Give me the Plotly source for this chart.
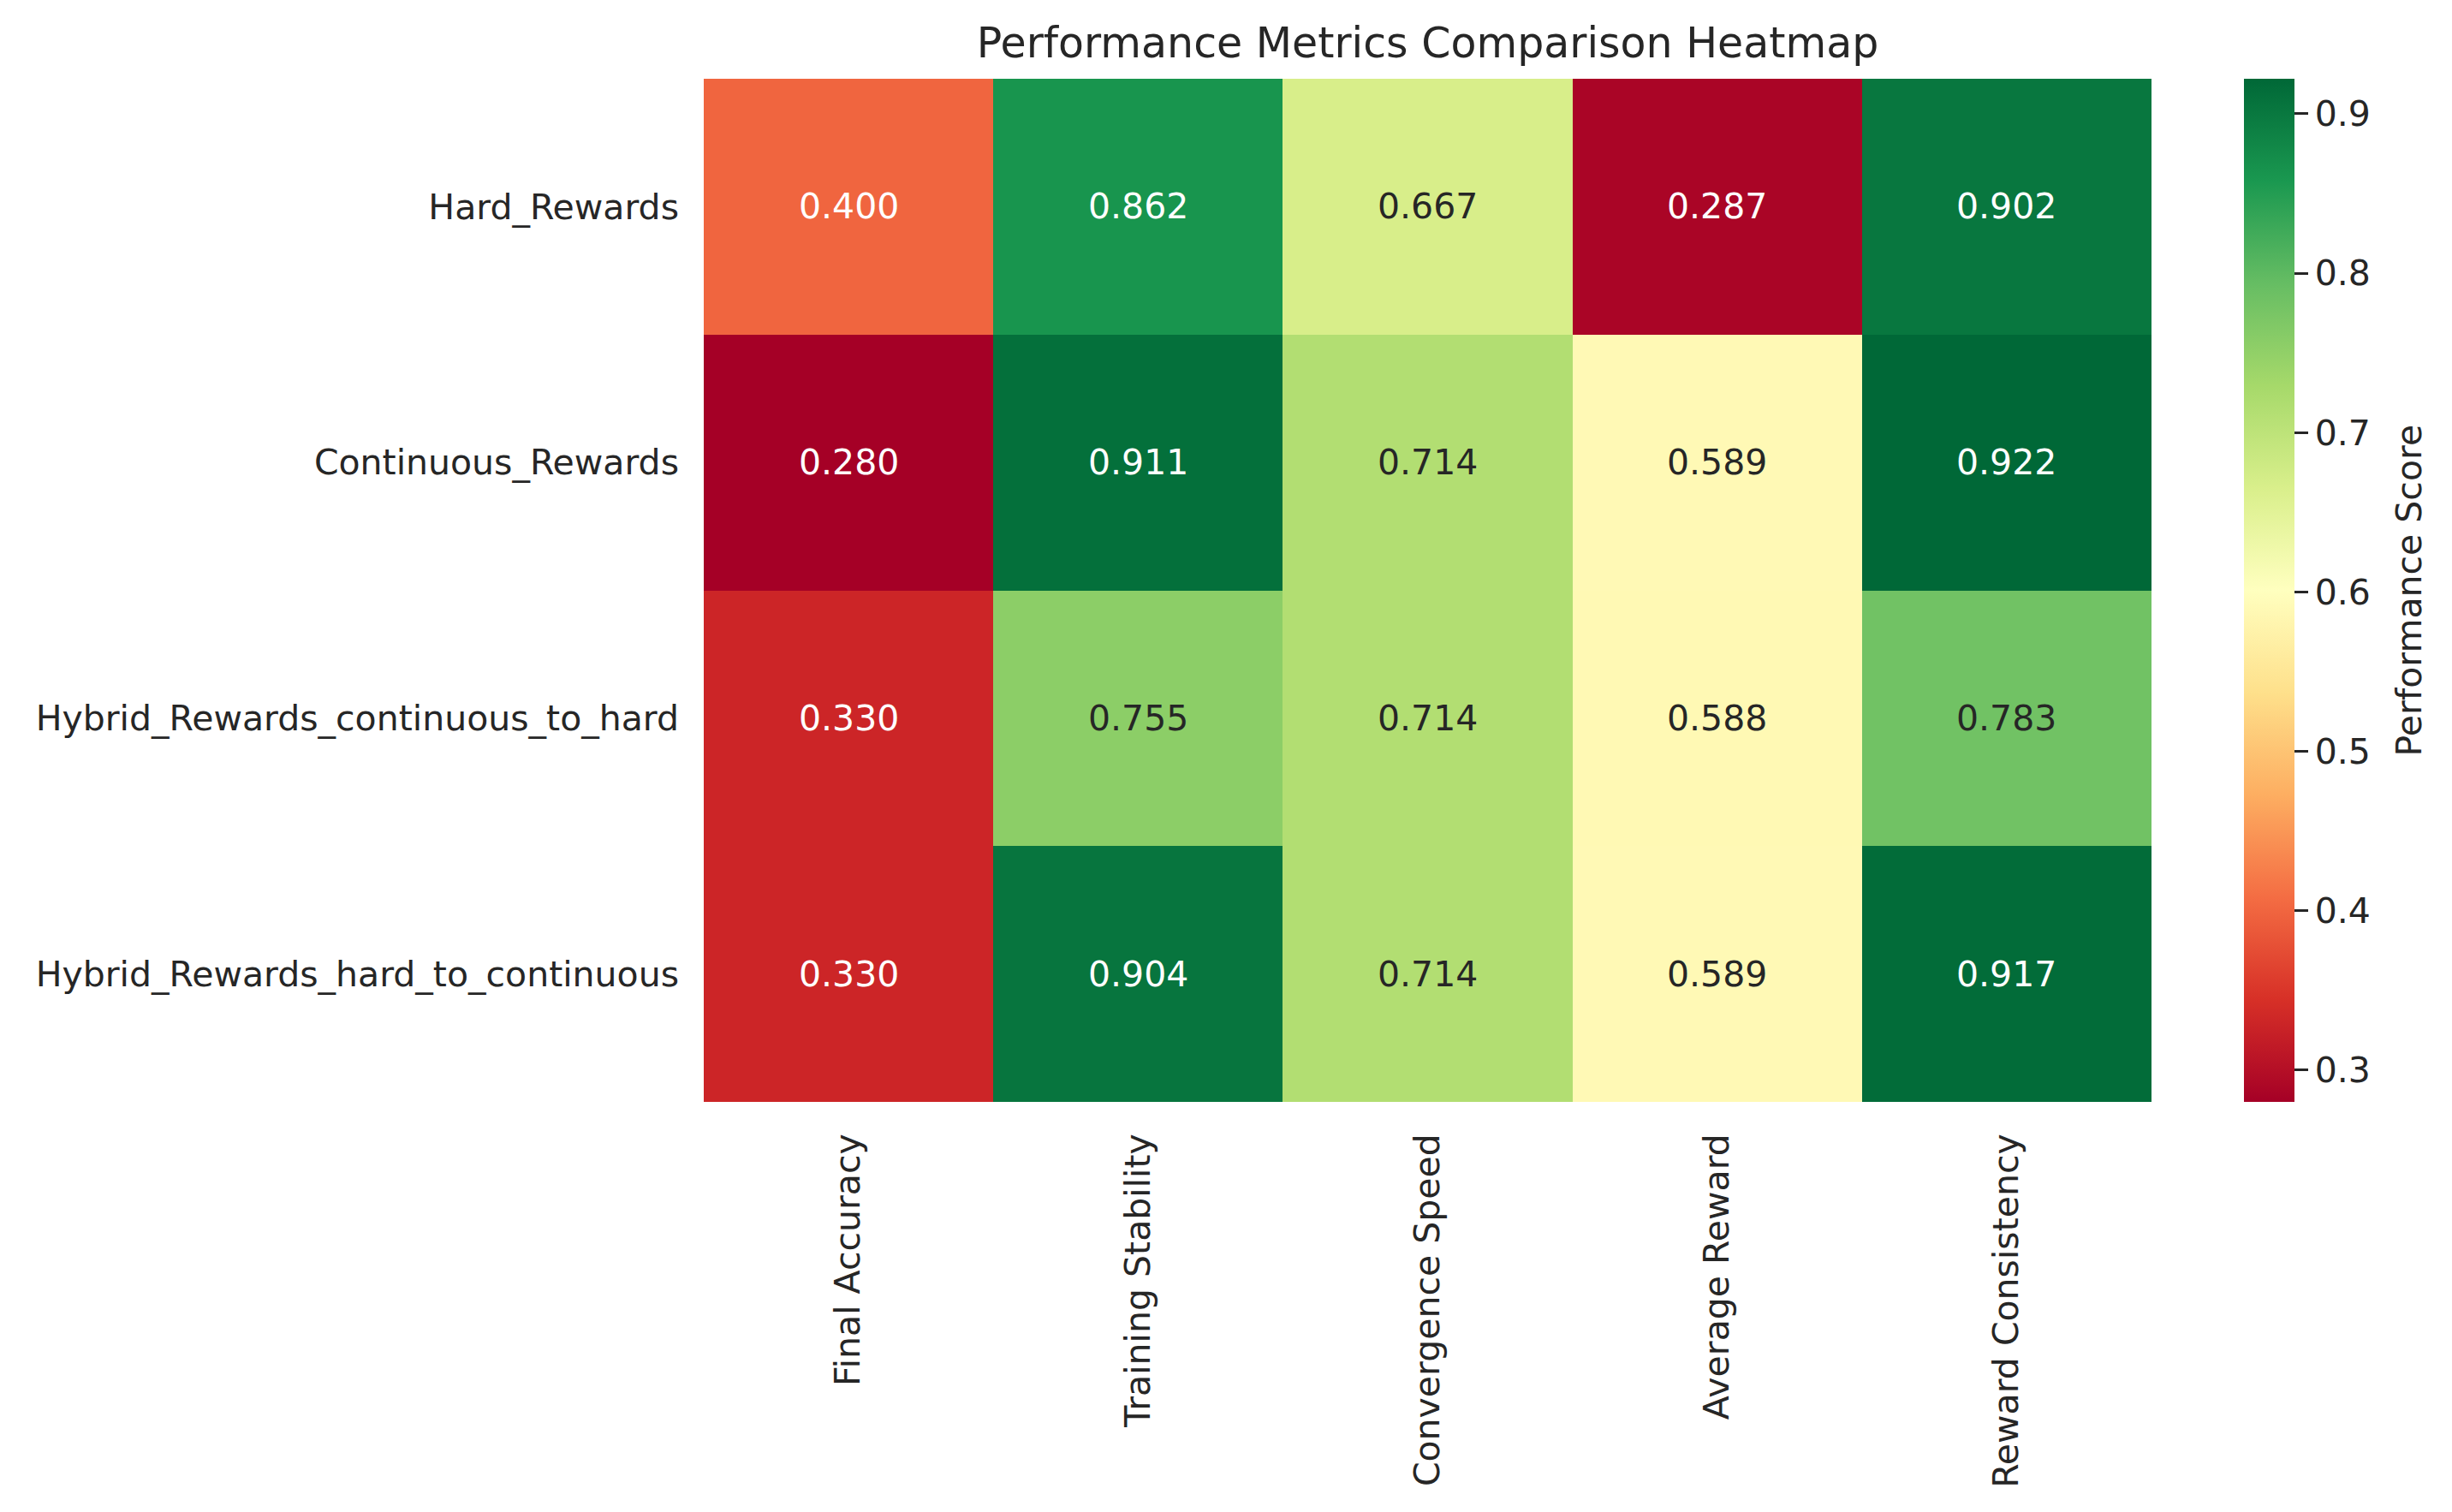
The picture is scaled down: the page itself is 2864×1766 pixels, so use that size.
import plotly.graph_objects as go
from plotly.colors import sample_colorscale, diverging, unlabel_rgb

rows = ["Hard_Rewards", "Continuous_Rewards",
        "Hybrid_Rewards_continuous_to_hard", "Hybrid_Rewards_hard_to_continuous"]
metrics = ["Final Accuracy", "Training Stability", "Convergence Speed",
           "Average Reward", "Reward Consistency"]

hard_rewards = [0.400, 0.862, 0.667, 0.287, 0.902]
continuous_rewards = [0.280, 0.911, 0.714, 0.589, 0.922]
hybrid_c2h = [0.330, 0.755, 0.714, 0.588, 0.783]
hybrid_h2c = [0.330, 0.904, 0.714, 0.589, 0.917]

colorbar_ticks = [0.3, 0.4, 0.5, 0.6, 0.7, 0.8, 0.9]

z = [hard_rewards, continuous_rewards, hybrid_c2h, hybrid_h2c]
zmin = min(min(r) for r in z)
zmax = max(max(r) for r in z)

cscale = diverging.RdYlGn
FONT = "DejaVu Sans"
DARK = "#262626"

OFF = 8  # default body margin of the html page
W, H = 2864 - OFF, 1766 - OFF
L, R, T, B = 822 - OFF, 2513 - OFF, 92 - OFF, 1287 - OFF
CB_X = 2621 - OFF
CB_LABEL_X = 2813 - OFF

fig = go.Figure(go.Heatmap(
    z=z, x=metrics, y=rows,
    colorscale=cscale, zmin=zmin, zmax=zmax,
    xgap=0, ygap=0,
    colorbar=dict(
        thickness=59, thicknessmode="pixels",
        len=1.0, lenmode="fraction",
        x=(CB_X - L) / (R - L), xanchor="left", xpad=0,
        y=0.5, yanchor="middle", ypad=0,
        outlinewidth=0,
        ticks="outside", ticklen=16, tickwidth=2.5, tickcolor=DARK,
        tickvals=colorbar_ticks,
        ticktext=[f"{t:.1f}" for t in colorbar_ticks],
        tickfont=dict(family=FONT, size=41, color=DARK),
    ),
    hoverinfo="skip",
))


def lum(rgb):
    vals = []
    for c in rgb:
        c = c / 255.0
        vals.append(c / 12.92 if c <= 0.03928 else ((c + 0.055) / 1.055) ** 2.4)
    return 0.2126 * vals[0] + 0.7152 * vals[1] + 0.0722 * vals[2]


annotations = []
for i, r in enumerate(rows):
    for j, m in enumerate(metrics):
        v = z[i][j]
        col = sample_colorscale(cscale, [(v - zmin) / (zmax - zmin)])[0]
        rgb = unlabel_rgb(col)
        tc = DARK if lum(rgb) > 0.408 else "white"
        annotations.append(dict(
            x=m, y=r, xref="x", yref="y", text=f"{v:.3f}", showarrow=False,
            font=dict(family=FONT, size=41, color=tc)))

annotations.append(dict(
    text="Performance Score", showarrow=False, textangle=-90,
    xref="paper", yref="paper", x=(CB_LABEL_X - L) / (R - L), y=0.5,
    xanchor="center", yanchor="middle",
    font=dict(family=FONT, size=41, color=DARK)))

fig.update_layout(
    width=W, height=H,
    margin=dict(l=L, r=W - R, t=T, b=H - B, pad=0),
    paper_bgcolor="white", plot_bgcolor="white",
    title=dict(text="Performance Metrics Comparison Heatmap",
               x=(L + R) / 2 / W, xanchor="center", xref="container",
               y=1 - (50 - OFF) / H, yanchor="middle", yref="container",
               font=dict(family=FONT, size=49, color=DARK)),
    annotations=annotations,
    font=dict(family=FONT, color=DARK),
)
fig.update_xaxes(tickangle=-90, ticks="", showgrid=False, zeroline=False,
                 tickfont=dict(family=FONT, size=41, color=DARK),
                 ticklabelstandoff=28, showline=False)
fig.update_yaxes(autorange="reversed", ticks="", showgrid=False, zeroline=False,
                 tickfont=dict(family=FONT, size=41, color=DARK),
                 ticklabelstandoff=28, showline=False)

fig.write_html("out.html")
